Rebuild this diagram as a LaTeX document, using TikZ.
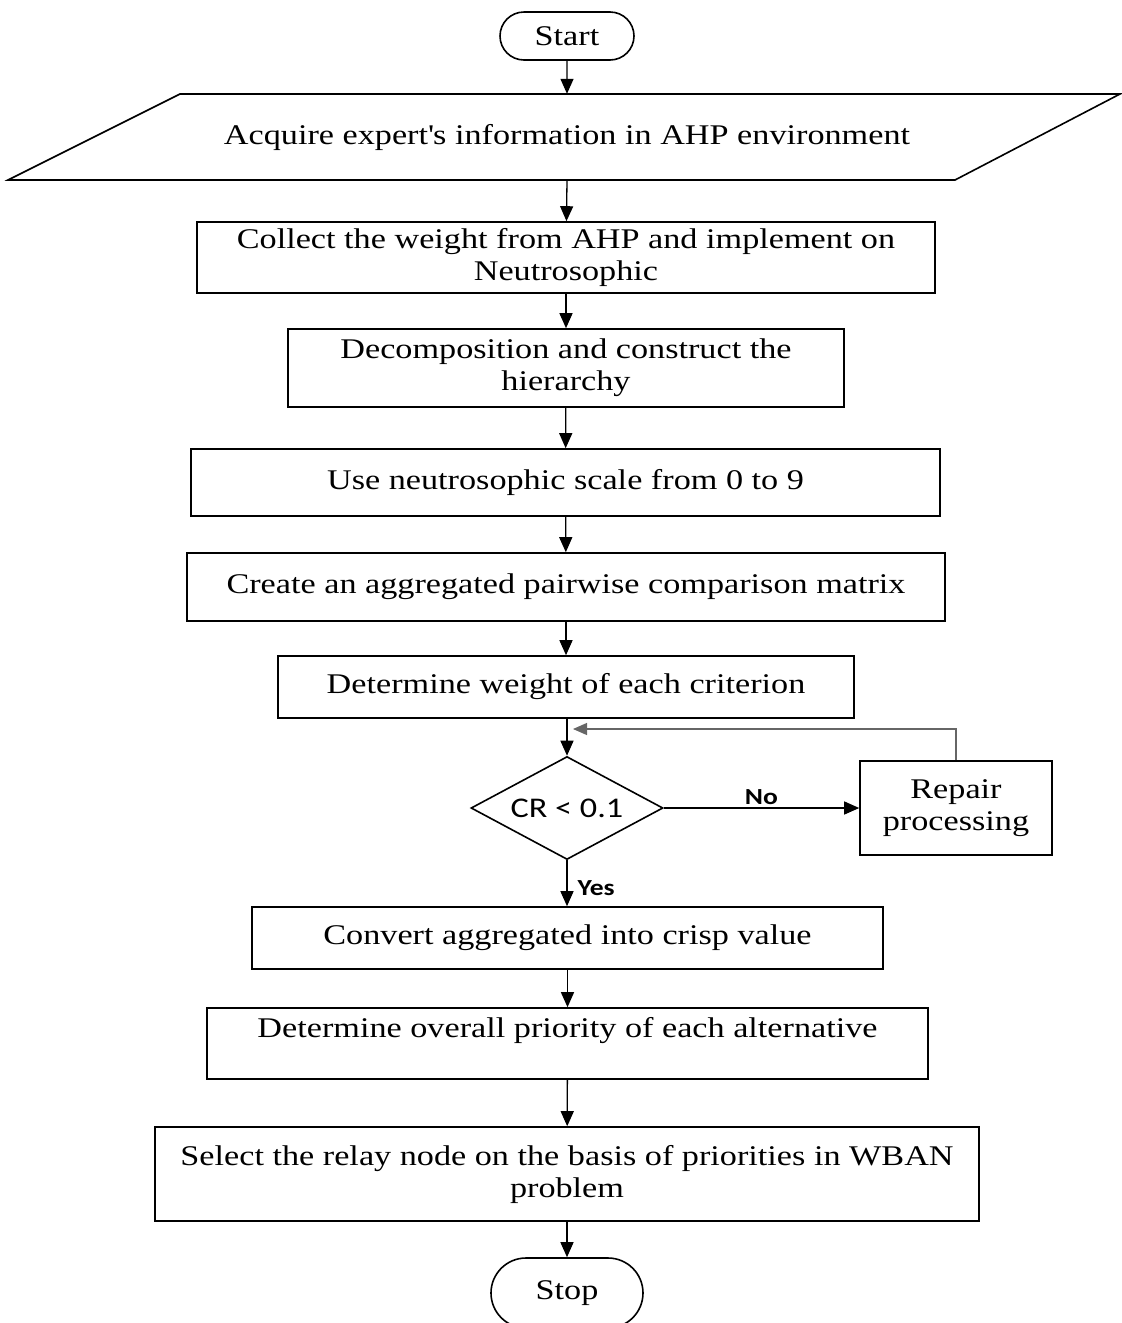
\documentclass[tikz,border=0pt]{standalone}
\usepackage{fontspec}
\setmainfont{Liberation Serif}[FakeStretch=1.2]
\newfontfamily\calib{Carlito}[FakeStretch=1.2]
\usetikzlibrary{shapes.geometric,shapes.misc,arrows.meta}
\begin{document}
\begin{tikzpicture}[x=1pt,y=-1pt,
  every node/.style={font=\fontsize{28.5}{32}\selectfont, align=center},
  procbox/.style={draw, line width=1.6pt, rectangle, inner sep=0pt},
  term/.style={draw, line width=1.6pt, rounded rectangle, inner sep=0pt},
  flow/.style={line width=1.3pt, -{Triangle[length=15pt,width=13pt]}},
  back/.style={line width=1.1pt, draw=black!60, -{Triangle[length=14pt,width=12pt]}},
  lbl/.style={font=\calib\bfseries\fontsize{23}{25}\selectfont}
]
\useasboundingbox (0,0) rectangle (1122,1323);
\node[term, minimum width=134pt, minimum height=48pt] (start) at (567,36) {Start};
% parallelogram
\draw[line width=1.6pt] (180,94) -- (1120,94) -- (955,180) -- (8,180) -- cycle;
\node[minimum width=760pt, minimum height=86pt, inner sep=0pt] (acq) at (567,137) {Acquire expert\textquotesingle s information in AHP environment};
\node[procbox, minimum width=738pt, minimum height=71pt] (b1) at (566,257.5) {Collect the weight from AHP and implement on\\Neutrosophic};
\node[procbox, minimum width=556pt, minimum height=78pt] (b2) at (566,368) {Decomposition and construct the\\hierarchy};
\node[procbox, minimum width=749pt, minimum height=67pt] (b3) at (565.5,482.5) {Use neutrosophic scale from 0 to 9};
\node[procbox, minimum width=758pt, minimum height=68pt] (b4) at (566,587) {Create an aggregated pairwise comparison matrix};
\node[procbox, minimum width=576pt, minimum height=62pt] (b5) at (566,687) {Determine weight of each criterion};
\node[draw, line width=1.6pt, diamond, aspect=1.86, minimum width=192pt, minimum height=103pt, inner sep=0pt, font=\calib\fontsize{28.5}{32}\selectfont] (cr) at (567,808) {CR < 0.1};
\node[procbox, minimum width=192pt, minimum height=94pt] (rep) at (956,808) {Repair\\processing};
\node[procbox, minimum width=631pt, minimum height=62pt] (b6) at (567.5,938) {Convert aggregated into crisp value};
\node[procbox, minimum width=721pt, minimum height=71pt] (b7) at (567.5,1043.5) {Determine overall priority of each alternative\\\mbox{}};
\node[procbox, minimum width=824pt, minimum height=94pt] (b8) at (567,1174) {Select the relay node on the basis of priorities in WBAN\\problem};
\node[term, minimum width=152pt, minimum height=70pt] (stop) at (567,1293) {Stop};

\draw[flow] (start) -- (acq.north);
\draw[flow] (acq.south) -- (b1);
\draw[flow] (b1) -- (b2);
\draw[flow] (b2) -- (b3);
\draw[flow] (b3) -- (b4);
\draw[flow] (b4) -- (b5);
\draw[flow] (b5.south -| cr.north) -- (cr.north);
\draw[flow] (cr.east) -- node[lbl, above, pos=0.5, inner sep=3pt] {No} (rep.west);
\coordinate (fb) at (rep.north |- 0,729);
\draw[back] (rep.north) -- (fb) -- (573,729);
\draw[flow] (cr.south) -- node[lbl, right, pos=0.6, inner sep=10pt] {Yes} (b6.north -| cr.south);
\draw[flow] (b6) -- (b7);
\draw[flow] (b7) -- (b8);
\draw[flow] (b8) -- (stop);
\end{tikzpicture}
\end{document}
